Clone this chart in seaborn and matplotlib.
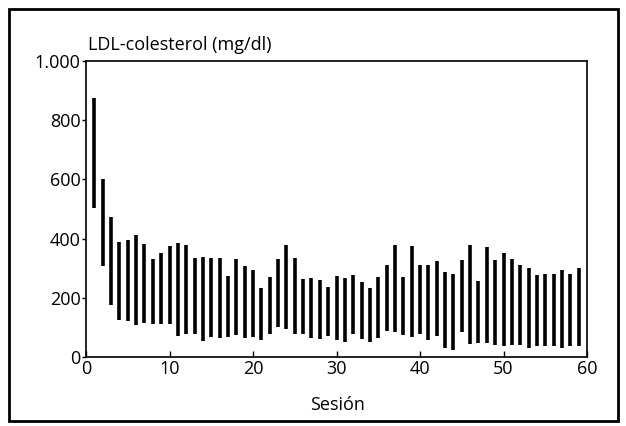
import matplotlib
matplotlib.use("Agg")
import matplotlib.pyplot as plt
import seaborn as sns
import pandas as pd
from matplotlib.patches import Rectangle

sessions = list(range(1, 60))
ldl_max = [876, 603, 474, 388, 396, 412, 381, 332, 353, 374, 386, 377, 333, 338, 333,
           333, 274, 332, 308, 294, 233, 270, 332, 380, 336, 263, 268, 260, 238, 274,
           268, 278, 253, 233, 271, 311, 380, 269, 374, 311, 311, 324, 287, 280, 328,
           380, 258, 372, 328, 350, 331, 311, 302, 276, 280, 280, 294, 280, 302]
ldl_min = [502, 308, 176, 124, 120, 109, 114, 113, 113, 113, 72, 78, 78, 53, 67,
           64, 69, 76, 64, 67, 58, 78, 100, 94, 78, 78, 63, 61, 71, 58,
           50, 78, 61, 49, 63, 87, 83, 73, 69, 78, 56, 72, 30, 22, 83,
           44, 48, 48, 42, 37, 39, 42, 29, 37, 37, 37, 31, 37, 37]
yticks = [0, 200, 400, 600, 800, 1000]
ytick_labels = ["0", "200", "400", "600", "800", "1.000"]
xticks = [0, 10, 20, 30, 40, 50, 60]

df = pd.DataFrame({
    "session": sessions + sessions,
    "value": ldl_min + ldl_max,
})

sns.set_theme(style="ticks")
plt.rcParams["font.family"] = ["Open Sans", "DejaVu Sans"]

fig = plt.figure(figsize=(6.26, 4.26), dpi=100)
ax = fig.add_axes([86 / 626, 1 - 357 / 426, (587 - 86) / 626, (357 - 61) / 426])

sns.lineplot(data=df, x="session", y="value", units="session", estimator=None,
             color="black", lw=2.6, solid_capstyle="butt", ax=ax, legend=False)

ax.set_xlim(0, 60)
ax.set_ylim(0, 1000)
ax.set_xticks(xticks)
ax.set_xticklabels([str(t) for t in xticks])
ax.set_yticks(yticks)
ax.set_yticklabels(ytick_labels)
ax.tick_params(axis="x", direction="in", length=4, width=1, labelsize=13, pad=2, colors="black")
ax.tick_params(axis="y", direction="out", length=3, width=1, labelsize=13, pad=1, colors="black")
for s in ax.spines.values():
    s.set_visible(True)
    s.set_color("black")
    s.set_linewidth(1.2)
ax.set_xlabel("")
ax.set_ylabel("")

fig.text(88 / 626, 1 - 45 / 426, "LDL-colesterol (mg/dl)", ha="left", va="center",
         fontsize=13, color="black")
fig.text(337 / 626, 1 - 405 / 426, "Sesión", ha="center", va="center",
         fontsize=13, color="black")

fig.patches.append(Rectangle((9 / 626, 1 - 421 / 426), (618 - 9) / 626, (421 - 9) / 426,
                             transform=fig.transFigure, fill=False, lw=2, edgecolor="black"))

fig.savefig("out.png", dpi=100)
